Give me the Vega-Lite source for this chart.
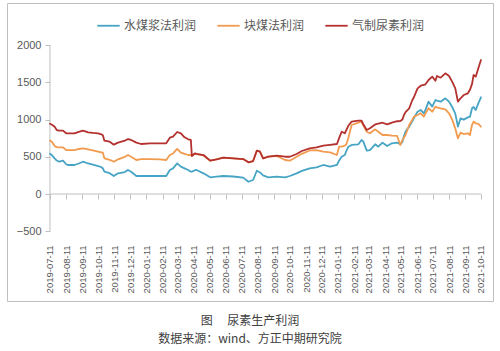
{
  "$schema": "https://vega.github.io/schema/vega-lite/v6.json",
  "width": 486,
  "height": 298,
  "padding": {"left": 7, "top": 3, "right": 7, "bottom": 2},
  "background": "white",
  "title": {
    "text": "图\u3000\u00a0尿素生产利润",
    "subtitle": "数据来源：wind、方正中期研究院",
    "orient": "bottom",
    "anchor": "middle",
    "offset": 15,
    "font": "Noto Sans CJK SC",
    "fontSize": 12,
    "fontWeight": "normal",
    "color": "#404040",
    "subtitleFont": "Noto Sans CJK SC",
    "subtitleFontSize": 12,
    "subtitleColor": "#404040",
    "subtitlePadding": 6
  },
  "datasets": {
    "profit": [
      {"d": "2019-07-11", "水煤浆法利润": 540, "块煤法利润": 720, "气制尿素利润": 945},
      {"d": "2019-07-15", "水煤浆法利润": 520, "块煤法利润": 700, "气制尿素利润": 930},
      {"d": "2019-07-20", "水煤浆法利润": 480, "块煤法利润": 645, "气制尿素利润": 905},
      {"d": "2019-07-24", "水煤浆法利润": 450, "块煤法利润": 630, "气制尿素利润": 860},
      {"d": "2019-07-29", "水煤浆法利润": 434, "块煤法利润": 627, "气制尿素利润": 851},
      {"d": "2019-08-05", "水煤浆法利润": 448, "块煤法利润": 627, "气制尿素利润": 851},
      {"d": "2019-08-11", "水煤浆法利润": 400, "块煤法利润": 591, "气制尿素利润": 816},
      {"d": "2019-08-14", "水煤浆法利润": 390, "块煤法利润": 591, "气制尿素利润": 816},
      {"d": "2019-08-27", "水煤浆法利润": 390, "块煤法利润": 591, "气制尿素利润": 816},
      {"d": "2019-09-04", "水煤浆法利润": 410, "块煤法利润": 605, "气制尿素利润": 835},
      {"d": "2019-09-12", "水煤浆法利润": 434, "块煤法利润": 614, "气制尿素利润": 851},
      {"d": "2019-09-22", "水煤浆法利润": 410, "块煤法利润": 600, "气制尿素利润": 829},
      {"d": "2019-10-01", "水煤浆法利润": 395, "块煤法利润": 585, "气制尿素利润": 822},
      {"d": "2019-10-11", "水煤浆法利润": 376, "块煤法利润": 569, "气制尿素利润": 816},
      {"d": "2019-10-17", "水煤浆法利润": 360, "块煤法利润": 560, "气制尿素利润": 802},
      {"d": "2019-10-20", "水煤浆法利润": 345, "块煤法利润": 555, "气制尿素利润": 790},
      {"d": "2019-10-23", "水煤浆法利润": 300, "块煤法利润": 480, "气制尿素利润": 716},
      {"d": "2019-11-02", "水煤浆法利润": 280, "块煤法利润": 460, "气制尿素利润": 703},
      {"d": "2019-11-10", "水煤浆法利润": 242, "块煤法利润": 434, "气制尿素利润": 663},
      {"d": "2019-11-18", "水煤浆法利润": 278, "块煤法利润": 466, "气制尿素利润": 690},
      {"d": "2019-12-01", "水煤浆法利润": 295, "块煤法利润": 500, "气制尿素利润": 716},
      {"d": "2019-12-07", "水煤浆法利润": 323, "块煤法利润": 524, "气制尿素利润": 739},
      {"d": "2019-12-13", "水煤浆法利润": 300, "块煤法利润": 501, "气制尿素利润": 726},
      {"d": "2019-12-23", "水煤浆法利润": 242, "块煤法利润": 457, "气制尿素利润": 690},
      {"d": "2020-01-01", "水煤浆法利润": 242, "块煤法利润": 470, "气制尿素利润": 672},
      {"d": "2020-01-18", "水煤浆法利润": 242, "块煤法利润": 470, "气制尿素利润": 681},
      {"d": "2020-02-06", "水煤浆法利润": 242, "块煤法利润": 466, "气制尿素利润": 681},
      {"d": "2020-02-18", "水煤浆法利润": 242, "块煤法利润": 457, "气制尿素利润": 681},
      {"d": "2020-02-25", "水煤浆法利润": 323, "块煤法利润": 524, "气制尿素利润": 757},
      {"d": "2020-03-02", "水煤浆法利润": 345, "块煤法利润": 545, "气制尿素利润": 770},
      {"d": "2020-03-10", "水煤浆法利润": 412, "块煤法利润": 605, "气制尿素利润": 833},
      {"d": "2020-03-17", "水煤浆法利润": 367, "块煤法利润": 555, "气制尿素利润": 816},
      {"d": "2020-03-24", "水煤浆法利润": 345, "块煤法利润": 540, "气制尿素利润": 762},
      {"d": "2020-03-31", "水煤浆法利润": 323, "块煤法利润": 524, "气制尿素利润": 735},
      {"d": "2020-04-05", "水煤浆法利润": 300, "块煤法利润": 524, "气制尿素利润": 726},
      {"d": "2020-04-07", "水煤浆法利润": 300, "块煤法利润": 520, "气制尿素利润": 511},
      {"d": "2020-04-13", "水煤浆法利润": 320, "块煤法利润": 540, "气制尿素利润": 547},
      {"d": "2020-04-16", "水煤浆法利润": 323, "块煤法利润": 535, "气制尿素利润": 540},
      {"d": "2020-04-29", "水煤浆法利润": 278, "块煤法利润": 520, "气制尿素利润": 524},
      {"d": "2020-05-12", "水煤浆法利润": 224, "块煤法利润": 448, "气制尿素利润": 448},
      {"d": "2020-05-24", "水煤浆法利润": 233, "块煤法利润": 466, "气制尿素利润": 466},
      {"d": "2020-06-06", "水煤浆法利润": 242, "块煤法利润": 488, "气制尿素利润": 488},
      {"d": "2020-06-25", "水煤浆法利润": 235, "块煤法利润": 480, "气制尿素利润": 480},
      {"d": "2020-07-14", "水煤浆法利润": 220, "块煤法利润": 470, "气制尿素利润": 470},
      {"d": "2020-07-24", "水煤浆法利润": 165, "块煤法利润": 426, "气制尿素利润": 426},
      {"d": "2020-08-02", "水煤浆法利润": 188, "块煤法利润": 443, "气制尿素利润": 443},
      {"d": "2020-08-09", "水煤浆法利润": 313, "块煤法利润": 582, "气制尿素利润": 582},
      {"d": "2020-08-15", "水煤浆法利润": 290, "块煤法利润": 569, "气制尿素利润": 569},
      {"d": "2020-08-21", "水煤浆法利润": 250, "块煤法利润": 480, "气制尿素利润": 480},
      {"d": "2020-08-31", "水煤浆法利润": 224, "块煤法利润": 501, "气制尿素利润": 501},
      {"d": "2020-09-16", "水煤浆法利润": 233, "块煤法利润": 510, "气制尿素利润": 515},
      {"d": "2020-10-02", "水煤浆法利润": 224, "块煤法利润": 457, "气制尿素利润": 501},
      {"d": "2020-10-11", "水煤浆法利润": 242, "块煤法利润": 448, "气制尿素利润": 501},
      {"d": "2020-10-24", "水煤浆法利润": 278, "块煤法利润": 501, "气制尿素利润": 538},
      {"d": "2020-11-03", "水煤浆法利润": 310, "块煤法利润": 540, "气制尿素利润": 578},
      {"d": "2020-11-18", "水煤浆法利润": 345, "块煤法利润": 585, "气制尿素利润": 614},
      {"d": "2020-12-01", "水煤浆法利润": 359, "块煤法利润": 591, "气制尿素利润": 627},
      {"d": "2020-12-14", "水煤浆法利润": 390, "块煤法利润": 569, "气制尿素利润": 649},
      {"d": "2020-12-27", "水煤浆法利润": 367, "块煤法利润": 560, "气制尿素利润": 660},
      {"d": "2021-01-09", "水煤浆法利润": 390, "块煤法利润": 524, "气制尿素利润": 672},
      {"d": "2021-01-13", "水煤浆法利润": 448, "块煤法利润": 636, "气制尿素利润": 748},
      {"d": "2021-01-18", "水煤浆法利润": 501, "块煤法利润": 636, "气制尿素利润": 837},
      {"d": "2021-01-24", "水煤浆法利润": 524, "块煤法利润": 650, "气制尿素利润": 816},
      {"d": "2021-01-27", "水煤浆法利润": 580, "块煤法利润": 668, "气制尿素利润": 860},
      {"d": "2021-01-31", "水煤浆法利润": 636, "块煤法利润": 760, "气制尿素利润": 920},
      {"d": "2021-02-06", "水煤浆法利润": 659, "块煤法利润": 927, "气制尿素利润": 972},
      {"d": "2021-02-19", "水煤浆法利润": 668, "块煤法利润": 960, "气制尿素利润": 985},
      {"d": "2021-02-25", "水煤浆法利润": 726, "块煤法利润": 972, "气制尿素利润": 985},
      {"d": "2021-02-28", "水煤浆法利润": 710, "块煤法利润": 927, "气制尿素利润": 941},
      {"d": "2021-03-07", "水煤浆法利润": 582, "块煤法利润": 837, "气制尿素利润": 860},
      {"d": "2021-03-13", "水煤浆法利润": 591, "块煤法利润": 816, "气制尿素利润": 883},
      {"d": "2021-03-23", "水煤浆法利润": 668, "块煤法利润": 869, "气制尿素利润": 935},
      {"d": "2021-03-29", "水煤浆法利润": 636, "块煤法利润": 837, "气制尿素利润": 945},
      {"d": "2021-04-06", "水煤浆法利润": 690, "块煤法利润": 793, "气制尿素利润": 958},
      {"d": "2021-04-15", "水煤浆法利润": 645, "块煤法利润": 793, "气制尿素利润": 935},
      {"d": "2021-04-24", "水煤浆法利润": 681, "块煤法利润": 785, "气制尿素利润": 960},
      {"d": "2021-05-04", "水煤浆法利润": 690, "块煤法利润": 780, "气制尿素利润": 978},
      {"d": "2021-05-10", "水煤浆法利润": 668, "块煤法利润": 659, "气制尿素利润": 981},
      {"d": "2021-05-14", "水煤浆法利润": 700, "块煤法利润": 726, "气制尿素利润": 1000},
      {"d": "2021-05-17", "水煤浆法利润": 780, "块煤法利润": 760, "气制尿素利润": 1062},
      {"d": "2021-05-20", "水煤浆法利润": 840, "块煤法利润": 793, "气制尿素利润": 1100},
      {"d": "2021-05-27", "水煤浆法利润": 905, "块煤法利润": 927, "气制尿素利润": 1152},
      {"d": "2021-06-02", "水煤浆法利润": 980, "块煤法利润": 1000, "气制尿素利润": 1263},
      {"d": "2021-06-05", "水煤浆法利润": 1017, "块煤法利润": 1039, "气制尿素利润": 1300},
      {"d": "2021-06-08", "水煤浆法利润": 1060, "块煤法利润": 1050, "气制尿素利润": 1353},
      {"d": "2021-06-12", "水煤浆法利润": 1106, "块煤法利润": 1062, "气制尿素利润": 1420},
      {"d": "2021-06-18", "水煤浆法利润": 1129, "块煤法利润": 1085, "气制尿素利润": 1455},
      {"d": "2021-06-24", "水煤浆法利润": 1085, "块煤法利润": 1039, "气制尿素利润": 1465},
      {"d": "2021-06-27", "水煤浆法利润": 1130, "块煤法利润": 1080, "气制尿素利润": 1474},
      {"d": "2021-07-03", "水煤浆法利润": 1241, "块煤法利润": 1152, "气制尿素利润": 1532},
      {"d": "2021-07-10", "水煤浆法利润": 1174, "块煤法利润": 1106, "气制尿素利润": 1577},
      {"d": "2021-07-16", "水煤浆法利润": 1263, "块煤法利润": 1174, "气制尿素利润": 1523},
      {"d": "2021-07-19", "水煤浆法利润": 1255, "块煤法利润": 1165, "气制尿素利润": 1586},
      {"d": "2021-07-26", "水煤浆法利润": 1241, "块煤法利润": 1152, "气制尿素利润": 1563},
      {"d": "2021-08-04", "水煤浆法利润": 1286, "块煤法利润": 1138, "气制尿素利润": 1622},
      {"d": "2021-08-11", "水煤浆法利润": 1241, "块煤法利润": 1085, "气制尿素利润": 1586},
      {"d": "2021-08-17", "水煤浆法利润": 1170, "块煤法利润": 1000, "气制尿素利润": 1510},
      {"d": "2021-08-23", "水煤浆法利润": 1080, "块煤法利润": 880, "气制尿素利润": 1420},
      {"d": "2021-08-28", "水煤浆法利润": 905, "块煤法利润": 748, "气制尿素利润": 1241},
      {"d": "2021-09-02", "水煤浆法利润": 1017, "块煤法利润": 824, "气制尿素利润": 1286},
      {"d": "2021-09-08", "水煤浆法利润": 1000, "块煤法利润": 806, "气制尿素利润": 1330},
      {"d": "2021-09-16", "水煤浆法利润": 1030, "块煤法利润": 816, "气制尿素利润": 1353},
      {"d": "2021-09-20", "水煤浆法利润": 1039, "块煤法利润": 793, "气制尿素利润": 1400},
      {"d": "2021-09-24", "水煤浆法利润": 1152, "块煤法利润": 930, "气制尿素利润": 1480},
      {"d": "2021-09-27", "水煤浆法利润": 1170, "块煤法利润": 972, "气制尿素利润": 1599},
      {"d": "2021-10-01", "水煤浆法利润": 1129, "块煤法利润": 950, "气制尿素利润": 1577},
      {"d": "2021-10-06", "水煤浆法利润": 1219, "块煤法利润": 941, "气制尿素利润": 1689},
      {"d": "2021-10-11", "水煤浆法利润": 1300, "块煤法利润": 905, "气制尿素利润": 1801}
    ],
    "xaxisline": [{"d": "2019-07-11", "d2": "2021-10-11", "v": 0}],
    "yaxisline": [{"d": "2019-07-11", "v": -500, "v2": 2000}]
  },
  "encoding": {
    "x": {
      "field": "d",
      "type": "temporal",
      "scale": {
        "type": "utc",
        "domain": [
          {"year": 2019, "month": 4, "date": 20, "utc": true},
          {"year": 2021, "month": 11, "date": 3, "utc": true}
        ],
        "nice": false
      },
      "axis": {
        "title": null,
        "orient": "bottom",
        "offset": -107,
        "domain": false,
        "grid": false,
        "ticks": true,
        "tickSize": 5,
        "tickColor": "#bfbfbf",
        "labelAngle": -90,
        "labelPadding": 46,
        "labelFont": "Liberation Sans",
        "labelFontSize": 9.5,
        "labelColor": "#595959",
        "labelOverlap": false,
        "labelBound": false,
        "labelFlush": false,
        "labelExpr": "utcFormat(datum.value, '%Y-%m-%d')",
        "values": [
          {"year": 2019, "month": 7, "date": 11, "utc": true},
          {"year": 2019, "month": 8, "date": 11, "utc": true},
          {"year": 2019, "month": 9, "date": 11, "utc": true},
          {"year": 2019, "month": 10, "date": 11, "utc": true},
          {"year": 2019, "month": 11, "date": 11, "utc": true},
          {"year": 2019, "month": 12, "date": 11, "utc": true},
          {"year": 2020, "month": 1, "date": 11, "utc": true},
          {"year": 2020, "month": 2, "date": 11, "utc": true},
          {"year": 2020, "month": 3, "date": 11, "utc": true},
          {"year": 2020, "month": 4, "date": 11, "utc": true},
          {"year": 2020, "month": 5, "date": 11, "utc": true},
          {"year": 2020, "month": 6, "date": 11, "utc": true},
          {"year": 2020, "month": 7, "date": 11, "utc": true},
          {"year": 2020, "month": 8, "date": 11, "utc": true},
          {"year": 2020, "month": 9, "date": 11, "utc": true},
          {"year": 2020, "month": 10, "date": 11, "utc": true},
          {"year": 2020, "month": 11, "date": 11, "utc": true},
          {"year": 2020, "month": 12, "date": 11, "utc": true},
          {"year": 2021, "month": 1, "date": 11, "utc": true},
          {"year": 2021, "month": 2, "date": 11, "utc": true},
          {"year": 2021, "month": 3, "date": 11, "utc": true},
          {"year": 2021, "month": 4, "date": 11, "utc": true},
          {"year": 2021, "month": 5, "date": 11, "utc": true},
          {"year": 2021, "month": 6, "date": 11, "utc": true},
          {"year": 2021, "month": 7, "date": 11, "utc": true},
          {"year": 2021, "month": 8, "date": 11, "utc": true},
          {"year": 2021, "month": 9, "date": 11, "utc": true},
          {"year": 2021, "month": 10, "date": 11, "utc": true}
        ]
      }
    },
    "y": {
      "field": "v",
      "type": "quantitative",
      "scale": {"domain": [-1438, 2567], "nice": false, "zero": false},
      "axis": {
        "title": null,
        "orient": "left",
        "offset": -43,
        "domain": false,
        "grid": false,
        "ticks": true,
        "tickSize": 5,
        "tickColor": "#bfbfbf",
        "labelPadding": 4,
        "labelFont": "Liberation Sans",
        "labelFontSize": 11,
        "labelColor": "#595959",
        "format": "d",
        "values": [-500, 0, 500, 1000, 1500, 2000]
      }
    }
  },
  "layer": [
    {
      "data": {"name": "xaxisline"},
      "mark": {"type": "rule", "color": "#bfbfbf", "strokeWidth": 1},
      "encoding": {"x2": {"field": "d2"}}
    },
    {
      "data": {"name": "yaxisline"},
      "mark": {"type": "rule", "color": "#bfbfbf", "strokeWidth": 1},
      "encoding": {"y2": {"field": "v2"}}
    },
    {
      "data": {"name": "profit"},
      "transform": [
        {"fold": ["水煤浆法利润", "块煤法利润", "气制尿素利润"], "as": ["series", "v"]}
      ],
      "mark": {"type": "line", "strokeJoin": "round", "strokeCap": "round"},
      "encoding": {
        "color": {
          "field": "series",
          "type": "nominal",
          "sort": ["水煤浆法利润", "块煤法利润", "气制尿素利润"],
          "scale": {
            "domain": ["水煤浆法利润", "块煤法利润", "气制尿素利润"],
            "range": ["#46a4c4", "#f29a4e", "#b3312e"]
          },
          "legend": {
            "title": null,
            "orient": "none",
            "legendX": 89,
            "legendY": 10,
            "direction": "horizontal",
            "symbolType": "stroke",
            "symbolSize": 500,
            "labelFont": "Noto Sans CJK SC",
            "labelFontSize": 12,
            "labelColor": "#595959",
            "labelOffset": 3,
            "columnPadding": 16,
            "padding": 0
          }
        },
        "strokeWidth": {
          "field": "series",
          "type": "nominal",
          "sort": ["水煤浆法利润", "块煤法利润", "气制尿素利润"],
          "scale": {
            "domain": ["水煤浆法利润", "块煤法利润", "气制尿素利润"],
            "range": [1.8, 1.8, 2.8]
          },
          "legend": {
            "title": null,
            "orient": "none",
            "legendX": 89,
            "legendY": 10,
            "direction": "horizontal",
            "symbolType": "stroke",
            "symbolSize": 500,
            "labelFont": "Noto Sans CJK SC",
            "labelFontSize": 12,
            "labelColor": "#595959",
            "labelOffset": 3,
            "columnPadding": 16,
            "padding": 0
          }
        }
      }
    }
  ],
  "config": {
    "view": {"stroke": "#c0c0c0", "strokeWidth": 1}
  }
}
